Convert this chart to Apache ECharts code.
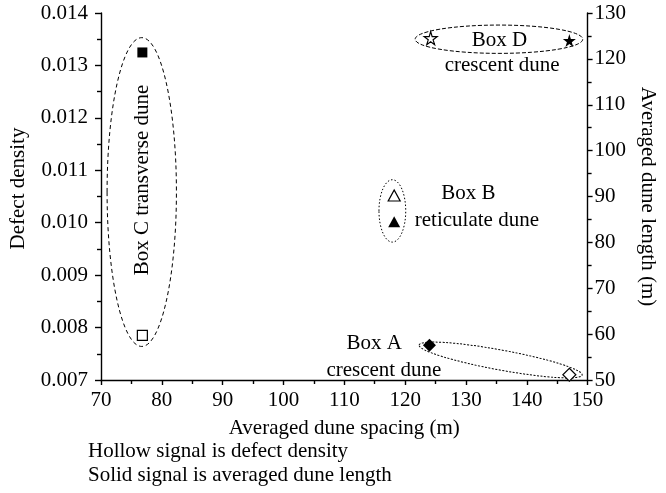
<!DOCTYPE html>
<html><head><meta charset="utf-8">
<script src="https://cdn.jsdelivr.net/npm/echarts@6/dist/echarts.min.js"></script>
<style>html,body{margin:0;padding:0;background:#fff}#c{width:666px;height:493px}</style>
</head><body><div id="c"></div>
<script>
// Hollow symbols: defect density (left axis)
const hollowSpacing = [76.8, 118.2, 124.2, 147.0];
const defectDensity = [0.00785, 0.01052, 0.01352, 0.00710];
const hollowShapes = ['rect', 'triangle', 'star', 'diamond'];
// Solid symbols: averaged dune length (right axis)
const solidSpacing = [76.8, 118.2, 147.0, 124.0];
const duneLength = [121.4, 84.5, 124.0, 57.6];
const solidShapes = ['rect', 'triangle', 'star', 'diamond'];

const FONT = 'Liberation Serif';
const FS = 21;
const STAR = 'path://M50,0 L61,35 L98,35 L68,57 L79,91 L50,70 L21,91 L32,57 L2,35 L39,35 Z';
function sym(s){ return s === 'star' ? STAR : s; }
function symSize(s){ return s==='rect'?10: s==='triangle'?[12,11]: s==='star'?[13,13]: [13,13]; }

const chart = echarts.init(document.getElementById('c'), null, {renderer:'canvas'});
const axisCommon = {
  axisLine:{show:true, lineStyle:{color:'#000', width:1.4}},
  axisTick:{show:true, inside:false, length:6, lineStyle:{color:'#000', width:1.4}},
  minorTick:{show:true, splitNumber:2, length:4, lineStyle:{color:'#000', width:1.4}},
  splitLine:{show:false},
  axisLabel:{color:'#000', fontFamily:FONT, fontSize:FS},
  nameTextStyle:{color:'#000', fontFamily:FONT, fontSize:FS}
};
chart.setOption({
  animation:false,
  backgroundColor:'#fff',
  grid:{left:94, right:71, top:13, bottom:113},
  xAxis:Object.assign({}, axisCommon, {
    type:'value', min:70, max:150, interval:10,
    name:'Averaged dune spacing (m)', nameLocation:'middle', nameGap:38,
    axisTick:Object.assign({}, axisCommon.axisTick, {length:5}),
    axisLabel:Object.assign({}, axisCommon.axisLabel, {margin:10})
  }),
  yAxis:[
    Object.assign({}, axisCommon, {
      type:'value', min:0.007, max:0.014, interval:0.001, position:'left',
      name:'Defect density', nameLocation:'middle', nameGap:72,
      nameTextStyle:Object.assign({}, axisCommon.nameTextStyle, {padding:[0,0,0,16]}),
      axisLabel:Object.assign({}, axisCommon.axisLabel, {margin:13, formatter:v=>v.toFixed(3)})
    }),
    Object.assign({}, axisCommon, {
      type:'value', min:50, max:130, interval:10, position:'right',
      name:'Averaged dune length (m)', nameLocation:'middle', nameGap:48, nameRotate:-90,
      axisTick:Object.assign({}, axisCommon.axisTick, {length:5}),
      axisLabel:Object.assign({}, axisCommon.axisLabel, {margin:7})
    })
  ],
  series:[
    {type:'scatter', yAxisIndex:0,
     data:hollowSpacing.map((x,i)=>({value:[x, defectDensity[i]], symbol:sym(hollowShapes[i]), symbolSize:symSize(hollowShapes[i])})),
     itemStyle:{color:'#fff', borderColor:'#000', borderWidth:1.2, opacity:1}},
    {type:'scatter', yAxisIndex:1,
     data:solidSpacing.map((x,i)=>({value:[x, duneLength[i]], symbol:sym(solidShapes[i]), symbolSize:symSize(solidShapes[i])})),
     itemStyle:{color:'#000', borderColor:'#000', borderWidth:0, opacity:1}}
  ]
});

// Annotation ellipses (data-space bounding boxes) and labels
const boxes = [
  {x:[71.0, 82.4], y:[0.00764, 0.01353], dash:[4,3]},
  {x:[115.7, 120.1], y:[0.00963, 0.01082], dash:[1.5,2]},
  {x:[121.65, 149.2], y:[0.01323, 0.01377], dash:[4,2]}
];
const boxA = {p1:[122.3, 0.007667], p2:[149.1, 0.0070955], minor:10, dash:[2,1.5]};
const labels = [
  {t:'Box A', x:114.9, y:0.007706},
  {t:'crescent dune', x:116.5, y:0.007191},
  {t:'Box B', x:130.4, y:0.010567},
  {t:'reticulate dune', x:131.8, y:0.010052},
  {t:'Box D', x:135.5, y:0.013485},
  {t:'crescent dune', x:135.95, y:0.013008}
];
const toPx = p => chart.convertToPixel({xAxisIndex:0, yAxisIndex:0}, p);
const font = FS + 'px "' + FONT + '"';
const g = [];
boxes.forEach(b=>{
  const a = toPx([b.x[0], b.y[1]]), c = toPx([b.x[1], b.y[0]]);
  g.push({type:'ellipse', shape:{cx:(a[0]+c[0])/2, cy:(a[1]+c[1])/2, rx:(c[0]-a[0])/2, ry:(c[1]-a[1])/2},
    style:{fill:null, stroke:'#000', lineWidth:1, lineDash:b.dash}, z:1});
});
{
  const a = toPx(boxA.p1), c = toPx(boxA.p2);
  const cx=(a[0]+c[0])/2, cy=(a[1]+c[1])/2;
  const len = Math.hypot(c[0]-a[0], c[1]-a[1])/2;
  const ang = Math.atan2(c[1]-a[1], c[0]-a[0]);
  g.push({type:'ellipse', x:cx, y:cy, rotation:-ang, shape:{cx:0, cy:0, rx:len, ry:boxA.minor},
    style:{fill:null, stroke:'#000', lineWidth:1, lineDash:boxA.dash}, z:1});
}
labels.forEach(l=>{
  const p = toPx([l.x, l.y]);
  g.push({type:'text', x:p[0], y:p[1], style:{text:l.t, fill:'#000', font:font, align:'center', verticalAlign:'middle'}, z:5});
});
{
  const p = toPx([76.75, 0.010815]);
  g.push({type:'text', x:p[0], y:p[1], rotation:Math.PI/2,
    style:{text:'Box C transverse dune', fill:'#000', font:font, align:'center', verticalAlign:'middle'}, z:5});
}
g.push({type:'text', left:88, top:441, style:{text:'Hollow signal is defect density', fill:'#000', font:font}});
g.push({type:'text', left:88, top:465, style:{text:'Solid signal is averaged dune length', fill:'#000', font:font}});
chart.setOption({graphic:g});
</script></body></html>
